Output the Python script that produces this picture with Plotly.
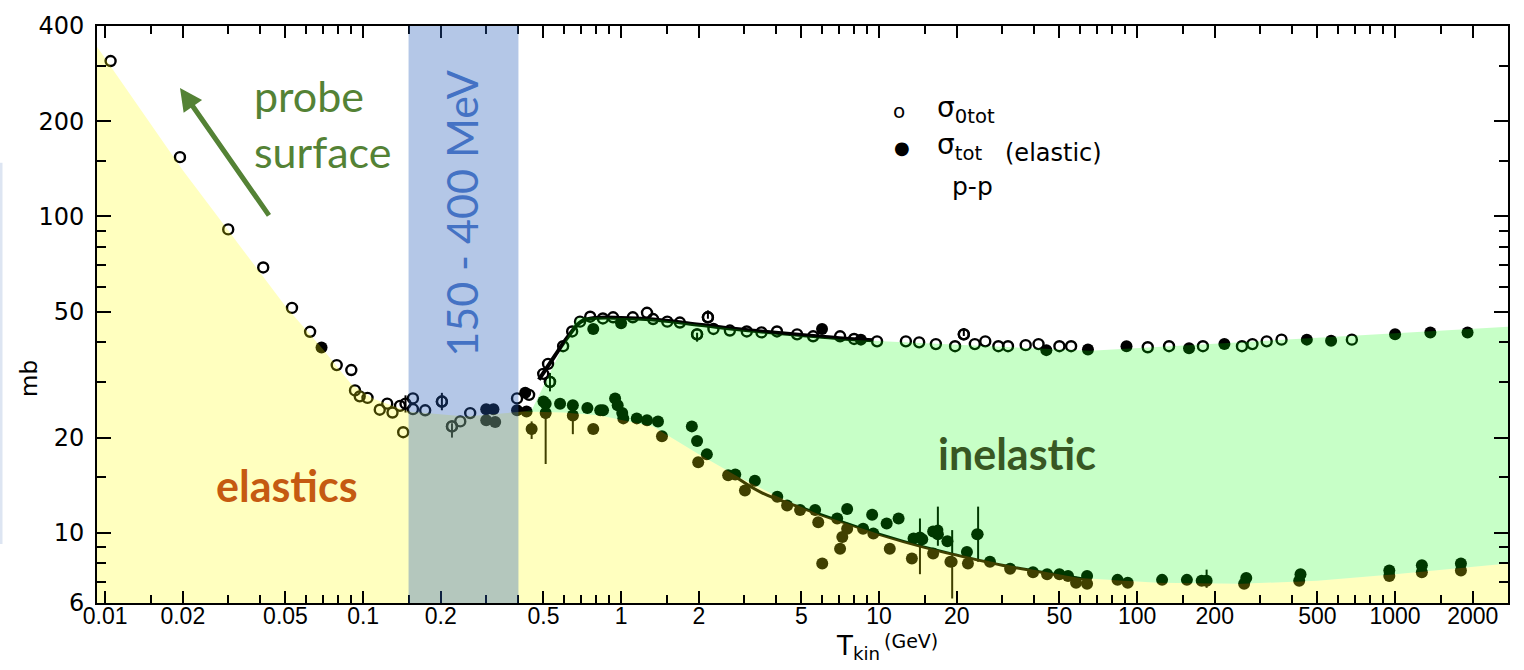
import math
import plotly.graph_objects as go

# ---------------- data: p-p cross sections (T_kin in GeV, sigma in mb) ----------------
# total cross section, open circles
TOT_OPEN_X = [0.0105, 0.0195, 0.030, 0.041, 0.053, 0.0623, 0.079, 0.090, 0.093, 0.097,
              0.104, 0.116, 0.124, 0.13, 0.139, 0.143,
              0.156, 0.156, 0.174, 0.202, 0.221, 0.238, 0.26, 0.395, 0.44,
              0.499, 0.521, 0.53, 0.596, 0.646, 0.693, 0.759, 0.85, 0.931, 1.11, 1.26, 1.33,
              1.51, 1.69, 1.97, 2.17, 2.28, 2.64, 3.07, 3.5, 4.02, 4.81, 5.55, 7.06, 8.0, 9.82,
              12.7, 14.3, 16.6, 19.7, 21.3, 23.5, 25.8, 29, 31.6, 37, 41.5, 50, 55.5,
              110, 133, 180, 255, 280, 318, 363, 680]
TOT_OPEN_Y = [310, 154, 91, 69, 51.4, 43.2, 33.9, 32.7, 28.2, 27.0,
              26.7, 24.5, 25.6, 24.0, 25.2, 20.8,
              26.6, 24.6, 24.4, 26.0, 21.7, 22.5, 23.9, 26.6, 27.3,
              31.8, 34.2, 30.0, 38.9, 43.3, 46.5, 48.2, 47.6, 48.0, 48.0, 49.6, 47.4,
              46.5, 46.2, 42.4, 48.0, 44.1, 43.6, 43.3, 43.0, 43.3, 42.4, 41.8, 41.8, 41.0, 40.3,
              40.3, 40.0, 39.5, 38.9, 42.4, 39.5, 40.3, 38.9, 38.9, 39.2, 39.5, 38.9, 38.9,
              38.6, 38.9, 38.9, 38.9, 39.5, 40.3, 40.8, 40.8]

# filled points: elastic cross section and total cross section of the same experiments
FILLED_X = [0.069, 0.30, 0.32, 0.30, 0.325, 0.395, 0.425, 0.43,
            0.45, 0.50, 0.51, 0.51, 0.58, 0.65, 0.65, 0.74, 0.78, 0.83,
            0.851, 0.948, 0.97, 1.01, 1.02, 1.15, 1.26, 1.39, 1.44, 1.88, 1.97, 2.15, 1.99,
            2.77, 2.60, 3.30, 3.02, 4.03, 4.40, 4.94, 5.65, 5.81, 6.88, 7.52, 7.52, 7.2, 7.06,
            6.02, 8.67, 9.4, 9.5, 10.7, 11.9, 11.0, 13.6, 14.7, 13.4, 16.2, 16.9, 18.4, 18.9,
            16.2, 21.9, 24.0, 22.1, 26.9, 32.2, 39.5, 44.8, 50, 54, 58, 64, 64, 84, 92,
            125, 156, 178, 186, 265, 260, 430, 425, 950, 950, 1270, 1270, 1800, 1800,
            0.78, 1.0, 6.01, 8.5, 44.5, 64.5, 91, 159, 218, 455, 565, 1000, 1370, 1910]
FILLED_Y = [38.5, 24.6, 24.6, 22.7, 22.4, 24.4, 27.7, 24.2,
            21.3, 26.0, 23.9, 25.6, 25.6, 25.3, 23.5, 24.8, 21.3, 24.4,
            24.4, 26.6, 25.3, 23.9, 23.0, 23.0, 22.7, 22.5, 20.2, 21.7, 19.5, 17.7, 16.7,
            15.3, 15.2, 14.6, 13.6, 13.0, 12.2, 11.8, 11.8, 10.8, 11.1, 11.9, 10.3, 9.7, 8.9,
            8.0, 10.3, 11.4, 9.95, 10.7, 11.1, 8.9, 9.6, 9.55, 8.3, 10.1, 9.9, 9.4, 8.1,
            8.6, 8.7, 9.9, 8.0, 8.1, 7.7, 7.5, 7.4, 7.4, 7.3, 6.95, 7.3, 6.9, 7.1, 6.95,
            7.1, 7.1, 7.05, 7.05, 7.2, 6.9, 7.4, 7.05, 7.6, 7.3, 7.9, 7.5, 8.0, 7.6,
            44.1, 46.0, 44.1, 40.8, 37.8, 38.0, 38.9, 38.3, 39.5, 40.8, 40.5, 42.4, 43.0, 43.0]

# points carrying vertical error bars
ERR_F_X = [0.45, 0.51, 0.65, 14.4, 16.9, 19.2, 24.2, 186]
ERR_F_Y = [21.3, 23.9, 23.5, 9.7, 10.2, 8.1, 9.9, 7.05]
ERR_F_UP = [1.2, 0.5, 0.5, 1.4, 1.9, 2.1, 2.2, 0.6]
ERR_F_DN = [1.5, 7.4, 3.0, 2.3, 1.1, 1.9, 1.8, 0.35]

ERR_O_X = [0.146, 0.202, 0.221, 0.53, 1.97, 2.17, 21.3]
ERR_O_Y = [25.6, 26.0, 21.7, 30.0, 42.4, 48.0, 42.4]
ERR_O_UP = [1.6, 1.7, 0.5, 2.0, 0.5, 2.5, 2.0]
ERR_O_DN = [1.6, 1.6, 1.7, 2.0, 2.2, 0.5, 0.5]

# fitted curves
TOT_FIT_X = [0.48, 0.55, 0.62, 0.70, 0.80, 1.0, 1.3, 1.8, 2.5, 3.5, 5.0, 7.0, 9.5]
TOT_FIT_Y = [30.5, 36.0, 41.5, 46.5, 47.8, 47.8, 47.3, 46.0, 44.5, 43.3, 42.2, 41.2, 40.6]
EL_FIT_X = [2.6, 3.5, 5, 7, 10, 15, 20, 30, 45, 65]
EL_FIT_Y = [15.6, 13.4, 12.0, 10.9, 9.9, 9.0, 8.5, 7.9, 7.45, 7.1]

# shaded regions: elastic band (below) and inelastic band (between the curves)
EL_EDGE_X = [0.0093, 0.02, 0.05, 0.07, 0.09, 0.11, 0.15, 0.25, 0.42, 0.6, 0.83, 1.33,
             2.0, 2.9, 3.9, 5.75, 10.4, 16.2, 29.4, 60, 120, 250, 500, 1000, 2750]
EL_EDGE_Y = [344, 140, 52, 38, 29.5, 26.5, 24.2, 23.3, 24.2, 24.0, 23.5, 21.7,
             17.7, 14.9, 13.2, 11.5, 9.8, 8.9, 8.0, 7.2, 6.95, 6.9, 7.05, 7.4, 8.0]
TOT_EDGE_X = [0.42, 0.45, 0.675, 0.8, 1.3, 2.0, 4.0, 7.7, 66, 2750]
TOT_EDGE_Y = [24.2, 24.4, 47.9, 48.0, 47.5, 45.5, 42.5, 40.8, 37.6, 44.8]

BAND_LO, BAND_HI = 0.15, 0.40   # GeV

X_TICKS = [0.01, 0.02, 0.05, 0.1, 0.2, 0.5, 1, 2, 5, 10, 20, 50, 100, 200, 500, 1000, 2000]
X_TICK_TEXT = ["0.01", "0.02", "0.05", "0.1", "0.2", "0.5", "1", "2", "5", "10", "20",
               "50", "100", "200", "500", "1000", "2000"]
X_MINOR = [m * 10 ** d for d in range(-2, 4) for m in (1.5, 3, 4, 6, 7, 8, 9)]
Y_TICKS = [6, 10, 20, 50, 100, 200, 400]
Y_MINOR = [7, 8, 9, 15, 30, 40, 60, 70, 80, 90, 150, 300]

X_RANGE = (0.0093, 2740)
Y_RANGE = (6, 400)

# ---------------- figure ----------------
W, H = 1524, 670
ML, MR, MT, MB = 97, 16, 16, 67
PW, PH = W - ML - MR, H - MT - MB
LX0, LX1 = math.log10(X_RANGE[0]), math.log10(X_RANGE[1])


def xp(px):
    return (px - ML) / PW


def yp(py):
    return (H - MB - py) / PH


def xfrac(v):
    """position of an energy value as a fraction of the plot width"""
    return (math.log10(v) - LX0) / (LX1 - LX0)


fig = go.Figure()

fig.add_trace(go.Scatter(x=TOT_FIT_X, y=TOT_FIT_Y, mode="lines",
                         line=dict(color="black", width=4, shape="spline"), hoverinfo="skip"))
fig.add_trace(go.Scatter(x=EL_FIT_X, y=EL_FIT_Y, mode="lines",
                         line=dict(color="black", width=3, shape="spline"), hoverinfo="skip"))

fig.add_trace(go.Scatter(
    x=ERR_F_X, y=ERR_F_Y, mode="markers",
    marker=dict(symbol="circle", size=11, color="black"),
    error_y=dict(type="data", symmetric=False, array=ERR_F_UP, arrayminus=ERR_F_DN,
                 color="black", thickness=2, width=0)))
fig.add_trace(go.Scatter(
    x=ERR_O_X, y=ERR_O_Y, mode="markers",
    marker=dict(symbol="circle-open", size=10, color="black", line=dict(width=2.4)),
    error_y=dict(type="data", symmetric=False, array=ERR_O_UP, arrayminus=ERR_O_DN,
                 color="black", thickness=2, width=0)))

fig.add_trace(go.Scatter(x=FILLED_X, y=FILLED_Y, mode="markers",
                         marker=dict(symbol="circle", size=12, color="black")))
fig.add_trace(go.Scatter(x=TOT_OPEN_X, y=TOT_OPEN_Y, mode="markers",
                         marker=dict(symbol="circle-open", size=10, color="black",
                                     line=dict(width=2.4))))

# translucent overlays (drawn on top of the points so they tint them)
fig.add_trace(go.Scatter(
    x=EL_EDGE_X + [X_RANGE[1] * 1.2, X_RANGE[1] * 1.2, X_RANGE[0] * 0.8, X_RANGE[0] * 0.8],
    y=EL_EDGE_Y + [EL_EDGE_Y[-1], 5, 5, EL_EDGE_Y[0]],
    mode="lines", line=dict(width=0), fill="toself",
    fillcolor="rgba(255,255,0,0.25)", hoverinfo="skip"))

lower = [(x, y) for x, y in zip(EL_EDGE_X, EL_EDGE_Y) if x >= TOT_EDGE_X[0]][::-1]
fig.add_trace(go.Scatter(
    x=TOT_EDGE_X + [X_RANGE[1] * 1.2, X_RANGE[1] * 1.2] + [p[0] for p in lower],
    y=TOT_EDGE_Y + [TOT_EDGE_Y[-1], EL_EDGE_Y[-1]] + [p[1] for p in lower],
    mode="lines", line=dict(width=0), fill="toself",
    fillcolor="rgba(0,255,0,0.22)", hoverinfo="skip"))

# energy window band
fig.add_shape(type="rect", xref="paper", yref="paper",
              x0=xfrac(BAND_LO), x1=xfrac(BAND_HI), y0=0, y1=1,
              fillcolor="rgba(40,94,186,0.35)", line=dict(width=0), layer="above")

# faint rule at the far left edge
fig.add_shape(type="line", xref="paper", yref="paper",
              x0=xp(1), x1=xp(1), y0=yp(155), y1=yp(543),
              line=dict(color="#dde5f2", width=3))

axis_common = dict(showgrid=False, zeroline=False, showline=True, linecolor="black",
                   linewidth=2, mirror="ticks", ticks="inside", tickcolor="black",
                   tickwidth=2)

fig.update_xaxes(type="log", range=[LX0, LX1],
                 tickmode="array", tickvals=X_TICKS, ticktext=X_TICK_TEXT, ticklen=12,
                 ticklabelstandoff=-9,
                 tickfont=dict(family="Liberation Sans, Arial", size=23, color="black"),
                 minor=dict(tickvals=X_MINOR, ticks="inside", ticklen=8,
                            tickcolor="black", tickwidth=2),
                 **axis_common)
fig.update_yaxes(type="log", range=[math.log10(Y_RANGE[0]), math.log10(Y_RANGE[1])],
                 tickmode="array", tickvals=Y_TICKS, ticktext=[str(v) for v in Y_TICKS],
                 ticklen=14, ticklabelstandoff=6,
                 tickfont=dict(family="DejaVu Sans", size=24, color="black"),
                 minor=dict(tickvals=Y_MINOR, ticks="inside", ticklen=9,
                            tickcolor="black", tickwidth=2),
                 **axis_common)

ann = []
# axis titles
ann.append(dict(x=xp(29), y=yp(375), text="mb", textangle=-90,
                font=dict(family="DejaVu Sans", size=23, color="black")))
ann.append(dict(x=xp(834), y=yp(648), xanchor="left", text="T<sub>kin</sub>",
                font=dict(family="DejaVu Sans", size=26, color="black")))
ann.append(dict(x=xp(882), y=yp(642), xanchor="left", text="(GeV)",
                font=dict(family="DejaVu Sans", size=19, color="black")))

# legend
leg_font = dict(family="DejaVu Sans", color="black")
ann.append(dict(x=xp(899), y=yp(102), text="o", font=dict(size=20, **leg_font)))
ann.append(dict(x=xp(902), y=yp(140), text="●", font=dict(size=18, **leg_font)))
ann.append(dict(x=xp(935), y=yp(101), xanchor="left", text="σ<sub>0tot</sub>",
                font=dict(size=28, **leg_font)))
ann.append(dict(x=xp(935), y=yp(139), xanchor="left", text="σ<sub>tot</sub>",
                font=dict(size=28, **leg_font)))
ann.append(dict(x=xp(1003), y=yp(145), xanchor="left", text="(elastic)",
                font=dict(size=24, **leg_font)))
ann.append(dict(x=xp(950), y=yp(179), xanchor="left", text="p-p",
                font=dict(size=25, **leg_font)))

# region labels
ann.append(dict(x=xp(462), y=yp(207), text="150 - 400 MeV", textangle=-90,
                font=dict(family="Lato", size=43, color="#4472C4")))
ann.append(dict(x=xp(252), y=yp(87), xanchor="left", text="probe",
                font=dict(family="Lato", size=43, color="#548235")))
ann.append(dict(x=xp(252), y=yp(144), xanchor="left", text="surface",
                font=dict(family="Lato", size=43, color="#548235")))
ann.append(dict(x=xp(287), y=yp(483), text="<b>elastics</b>",
                font=dict(family="Lato", size=43, color="#C55A11")))
ann.append(dict(x=xp(1017), y=yp(451), text="<b>inelastic</b>",
                font=dict(family="Lato", size=43, color="#385723")))

for a in ann:
    a.update(xref="paper", yref="paper", showarrow=False)
    a.setdefault("xanchor", "center")
    a.setdefault("yanchor", "middle")

# arrow towards low energies
ann.append(dict(x=xp(180), y=yp(79), xref="paper", yref="paper", ax=90, ay=129,
                text="", showarrow=True, arrowhead=2, arrowsize=0.9, arrowwidth=5,
                arrowcolor="#548235"))
fig.update_layout(annotations=ann)

fig.update_layout(width=W, height=H, margin=dict(l=ML, r=MR, t=MT, b=MB),
                  paper_bgcolor="white", plot_bgcolor="white", showlegend=False)

fig.write_html("out.html")
